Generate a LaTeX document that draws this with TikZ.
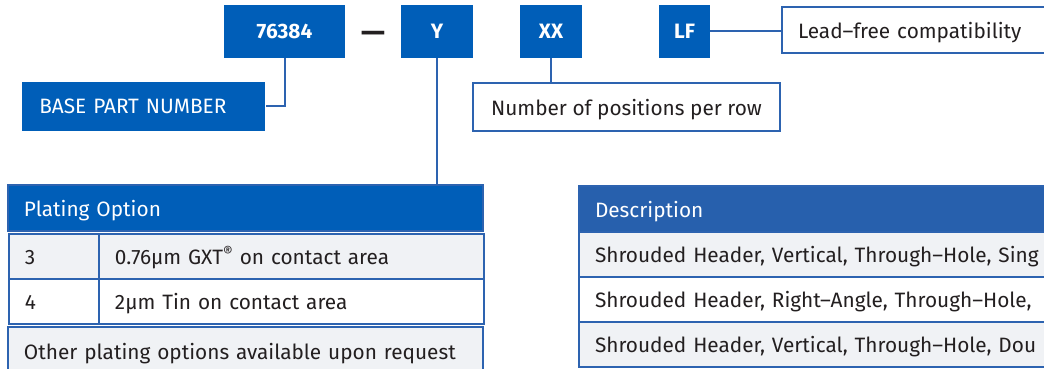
\documentclass[tikz,border=0pt]{standalone}
\usepackage{fontspec}
\setmainfont{Fira Sans}
\usetikzlibrary{matrix, positioning}
\definecolor{molexblue}{HTML}{005EB8}
\definecolor{headblue}{HTML}{2760AD}
\definecolor{lineblue}{HTML}{2D63B0}
\definecolor{rowgray}{HTML}{F0F2F5}
\definecolor{ink}{HTML}{231F20}
\tikzset{
  code/.style={
    rectangle, fill=molexblue, text=white, font=\bfseries,
    minimum height=26.5pt, inner sep=0pt
  },
  plainbox/.style={
    rectangle, draw=lineblue, line width=1pt, fill=white, text=ink,
    inner xsep=8pt, inner ysep=0pt, text height=2ex, text depth=0.5ex
  },
  link/.style={
    draw=lineblue, line width=1pt
  },
  layout/.style={
    matrix of nodes,
    line width=1pt,
    row sep=-\pgflinewidth,
    column sep=-\pgflinewidth,
    inner sep=0pt,
    nodes={rectangle, draw=lineblue, align=left, text=ink,
      inner xsep=8pt, inner ysep=3pt, anchor=center},
    minimum height=22.5pt,
    text depth=0.5ex,
    text height=2ex,
    nodes in empty cells,
  },
  headcell/.style={
    rectangle, draw=lineblue, line width=1pt, fill=molexblue, text=white,
    align=left, inner xsep=8pt, inner ysep=3pt, minimum height=23pt,
    text height=2ex, text depth=0.5ex
  }
}

\begin{document}
\fontsize{10.4pt}{13pt}\selectfont
\begin{tikzpicture}[x=0.5pt, y=-0.5pt]
  \useasboundingbox (0,0) rectangle (1044,369);
  \clip (0,0) rectangle (1044,369);
  % part number code
  \node[code, minimum width=60.5pt] (part) at (284.5,31.5) {76384};
  \node[text=ink, inner sep=0pt, font=\bfseries\fontsize{15pt}{15pt}\selectfont] (dash) at (373,37) {—};
  \node[code, minimum width=36pt] (plating-code) at (437,31.5) {Y};
  \node[code, minimum width=31pt] (rows-code) at (551,31.5) {XX};
  \node[code, minimum width=25.5pt] (lf-code) at (684.5,31.5) {LF};
  % callouts
  \node[code, font=\mdseries, anchor=west, minimum width=121.5pt, minimum height=24.5pt,
    inner xsep=8.5pt, align=left, text width=104.5pt] (base) at (22,106.5) {BASE PART NUMBER};
  \node[plainbox, anchor=west, minimum height=24pt, minimum width=153.5pt] (positions) at (472,107) {Number of positions per row};
  \node[plainbox, anchor=west, minimum height=23pt, text width=150pt, align=left] (leadfree) at (781,30) {Lead–free compatibility};
  \draw[link] (part.south) |- (base.east);
  \draw[link] (rows-code.south) -- (rows-code.south |- positions.north);
  \draw[link] (lf-code.east) -- (lf-code.east -| leadfree.west);
  % plating table
  \node[headcell, anchor=north west, text width=221.5pt] (plating-head) at (7,184) {Plating Option};
  \matrix (plating) [layout, anchor=north west,
    row 1/.style={nodes={fill=rowgray}},
    row 2/.style={nodes={fill=white}},
    column 1/.style={nodes={text width=29pt}},
    column 2/.style={nodes={text width=176.5pt}}] at (plating-head.south west) {
    3 & 0.76µm GXT{\raisebox{0.7ex}{\fontsize{7.5pt}{7.5pt}\selectfont ®}} on contact area \\
    4 & 2µm Tin on contact area \\
  };
  \node[rectangle, draw=lineblue, line width=1pt, fill=rowgray, text=ink, align=left,
    inner xsep=8pt, inner ysep=3pt, minimum height=24pt, text height=2ex, text depth=0.5ex,
    anchor=north west, text width=221.5pt] (plating-foot) at (plating.south west)
    {Other plating options available upon request};
  \draw[link] (plating-code.south) -- (plating-code.south |- plating-head.north);
  % description table
  \matrix (desc) [layout, anchor=north west,
    row 1/.style={nodes={fill=headblue, text=white, minimum height=23pt}},
    row 2/.style={nodes={fill=rowgray}},
    row 3/.style={nodes={fill=white}},
    row 4/.style={nodes={fill=rowgray}},
    column 1/.style={nodes={text width=250pt}}] at (577,184) {
    Description \\
    Shrouded Header, Vertical, Through–Hole, Sing \\
    Shrouded Header, Right–Angle, Through–Hole, \\
    Shrouded Header, Vertical, Through–Hole, Dou \\
  };
\end{tikzpicture}
\end{document}
